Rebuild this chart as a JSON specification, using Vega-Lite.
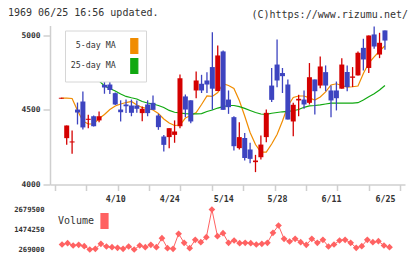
{
  "$schema": "https://vega.github.io/schema/vega-lite/v6.json",
  "background": "white",
  "padding": {"left": 8, "top": 7.5, "right": 5, "bottom": 3},
  "title": {"text": "1969 06/25 16:56 updated.", "anchor": "start", "frame": "group", "dx": -42, "dy": 12},
  "bounds": "flush",
  "spacing": 25,
  "resolve": {"scale": {"color": "independent"}, "legend": {"color": "independent"}},
  "config": {
    "view": {"stroke": null},
    "font": "DejaVu Sans Mono",
    "title": {"font": "DejaVu Sans Mono", "fontSize": 10, "fontWeight": "normal", "color": "#333"},
    "axis": {"labelFont": "DejaVu Sans Mono", "labelColor": "#333", "domainColor": "#cfcfcf", "tickColor": "#cfcfcf", "grid": false, "title": null}
  },
  "datasets": {
    "stock": [
      {"i":0,"o":4576,"h":4582,"l":4576,"c":4582,"v":null,"ma5":4579,"ma25":null},
      {"i":1,"o":4311,"h":4396,"l":4266,"c":4396,"v":570000,"ma5":4579,"ma25":4842},
      {"i":2,"o":4282,"h":4362,"l":4206,"c":4289,"v":648000,"ma5":4577,"ma25":4829},
      {"i":3,"o":4503,"h":4550,"l":4403,"c":4483,"v":510000,"ma5":4497,"ma25":4802},
      {"i":4,"o":4557,"h":4624,"l":4369,"c":4383,"v":552000,"ma5":4426,"ma25":4775},
      {"i":5,"o":4434,"h":4468,"l":4378,"c":4441,"v":470000,"ma5":4406,"ma25":4748},
      {"i":6,"o":4458,"h":4463,"l":4389,"c":4391,"v":269000,"ma5":4406,"ma25":4721},
      {"i":7,"o":4430,"h":4490,"l":4418,"c":4458,"v":309000,"ma5":4443,"ma25":4695},
      {"i":8,"o":4669,"h":4708,"l":4609,"c":4651,"v":610000,"ma5":4470,"ma25":4661},
      {"i":9,"o":4671,"h":4720,"l":4607,"c":4634,"v":450000,"ma5":4503,"ma25":4644},
      {"i":10,"o":4613,"h":4617,"l":4533,"c":4537,"v":410000,"ma5":4527,"ma25":4627},
      {"i":11,"o":4503,"h":4565,"l":4423,"c":4485,"v":370000,"ma5":4540,"ma25":4607},
      {"i":12,"o":4537,"h":4570,"l":4480,"c":4525,"v":309000,"ma5":4550,"ma25":4591},
      {"i":13,"o":4530,"h":4570,"l":4458,"c":4481,"v":450000,"ma5":4557,"ma25":4582},
      {"i":14,"o":4530,"h":4564,"l":4481,"c":4508,"v":269000,"ma5":4534,"ma25":4574},
      {"i":15,"o":4479,"h":4523,"l":4425,"c":4508,"v":510000,"ma5":4517,"ma25":4557},
      {"i":16,"o":4537,"h":4565,"l":4458,"c":4479,"v":410000,"ma5":4510,"ma25":4547},
      {"i":17,"o":4548,"h":4597,"l":4501,"c":4501,"v":552000,"ma5":4500,"ma25":4540},
      {"i":18,"o":4463,"h":4474,"l":4367,"c":4385,"v":410000,"ma5":4476,"ma25":4530},
      {"i":19,"o":4322,"h":4333,"l":4221,"c":4266,"v":950000,"ma5":4440,"ma25":4517},
      {"i":20,"o":4318,"h":4378,"l":4244,"c":4378,"v":349000,"ma5":4413,"ma25":4497},
      {"i":21,"o":4333,"h":4430,"l":4280,"c":4356,"v":309000,"ma5":4396,"ma25":4485},
      {"i":22,"o":4391,"h":4738,"l":4378,"c":4713,"v":1215000,"ma5":4399,"ma25":4480},
      {"i":23,"o":4591,"h":4604,"l":4452,"c":4503,"v":673000,"ma5":4446,"ma25":4476},
      {"i":24,"o":4565,"h":4565,"l":4411,"c":4423,"v":349000,"ma5":4463,"ma25":4474},
      {"i":25,"o":4631,"h":4758,"l":4579,"c":4698,"v":853000,"ma5":4483,"ma25":4474},
      {"i":26,"o":4676,"h":4736,"l":4614,"c":4631,"v":709000,"ma5":4537,"ma25":4476},
      {"i":27,"o":4698,"h":4754,"l":4614,"c":4671,"v":1010000,"ma5":4594,"ma25":4490},
      {"i":28,"o":4788,"h":5022,"l":4501,"c":4643,"v":2679500,"ma5":4591,"ma25":4500},
      {"i":29,"o":4627,"h":4933,"l":4627,"c":4866,"v":1070000,"ma5":4617,"ma25":4513},
      {"i":30,"o":4893,"h":4899,"l":4501,"c":4501,"v":1251000,"ma5":4676,"ma25":4523},
      {"i":31,"o":4570,"h":4631,"l":4474,"c":4519,"v":673000,"ma5":4664,"ma25":4530},
      {"i":32,"o":4452,"h":4458,"l":4228,"c":4257,"v":811000,"ma5":4644,"ma25":4530},
      {"i":33,"o":4244,"h":4418,"l":4235,"c":4318,"v":648000,"ma5":4564,"ma25":4523},
      {"i":34,"o":4312,"h":4346,"l":4161,"c":4178,"v":673000,"ma5":4460,"ma25":4511},
      {"i":35,"o":4235,"h":4280,"l":4143,"c":4172,"v":648000,"ma5":4349,"ma25":4497},
      {"i":36,"o":4150,"h":4199,"l":4083,"c":4161,"v":570000,"ma5":4268,"ma25":4483},
      {"i":37,"o":4183,"h":4329,"l":4168,"c":4268,"v":610000,"ma5":4217,"ma25":4473},
      {"i":38,"o":4318,"h":4503,"l":4284,"c":4481,"v":673000,"ma5":4217,"ma25":4471},
      {"i":39,"o":4664,"h":4782,"l":4554,"c":4568,"v":1275000,"ma5":4272,"ma25":4478},
      {"i":40,"o":4805,"h":4973,"l":4653,"c":4698,"v":1715000,"ma5":4336,"ma25":4483},
      {"i":41,"o":4748,"h":4782,"l":4614,"c":4727,"v":913000,"ma5":4426,"ma25":4488},
      {"i":42,"o":4671,"h":4705,"l":4436,"c":4436,"v":751000,"ma5":4527,"ma25":4491},
      {"i":43,"o":4423,"h":4548,"l":4324,"c":4535,"v":913000,"ma5":4584,"ma25":4495},
      {"i":44,"o":4564,"h":4602,"l":4458,"c":4575,"v":709000,"ma5":4594,"ma25":4503},
      {"i":45,"o":4570,"h":4631,"l":4508,"c":4537,"v":552000,"ma5":4594,"ma25":4518},
      {"i":46,"o":4548,"h":4815,"l":4537,"c":4720,"v":913000,"ma5":4581,"ma25":4528},
      {"i":47,"o":4705,"h":4705,"l":4470,"c":4626,"v":673000,"ma5":4567,"ma25":4530},
      {"i":48,"o":4664,"h":4859,"l":4646,"c":4792,"v":853000,"ma5":4587,"ma25":4534},
      {"i":49,"o":4754,"h":4799,"l":4626,"c":4664,"v":450000,"ma5":4621,"ma25":4540},
      {"i":50,"o":4631,"h":4664,"l":4452,"c":4564,"v":570000,"ma5":4668,"ma25":4546},
      {"i":51,"o":4631,"h":4691,"l":4497,"c":4579,"v":811000,"ma5":4676,"ma25":4546},
      {"i":52,"o":4643,"h":4848,"l":4643,"c":4805,"v":853000,"ma5":4664,"ma25":4546},
      {"i":53,"o":4755,"h":4799,"l":4626,"c":4654,"v":673000,"ma5":4653,"ma25":4546},
      {"i":54,"o":4716,"h":4788,"l":4654,"c":4725,"v":370000,"ma5":4656,"ma25":4546},
      {"i":55,"o":4732,"h":4893,"l":4732,"c":4884,"v":470000,"ma5":4661,"ma25":4549},
      {"i":56,"o":4917,"h":4978,"l":4765,"c":4839,"v":853000,"ma5":4745,"ma25":4567},
      {"i":57,"o":4782,"h":5000,"l":4748,"c":5000,"v":709000,"ma5":4815,"ma25":4589},
      {"i":58,"o":5007,"h":5060,"l":4911,"c":4926,"v":770000,"ma5":4856,"ma25":4609},
      {"i":59,"o":4872,"h":5018,"l":4848,"c":4951,"v":510000,"ma5":4896,"ma25":4634},
      {"i":60,"o":5034,"h":5034,"l":4904,"c":4966,"v":410000,"ma5":4931,"ma25":4664}
    ]
  },
  "vconcat": [
    {
      "width": 355,
      "height": 159,
      "title": {"text": "(C)https://www.rizumu.net/", "anchor": "end", "frame": "group", "dx": 3, "offset": 5.5},
      "data": {"name": "stock"},
      "encoding": {
        "x": {
          "field": "i", "type": "quantitative",
          "scale": {"domain": [-1.17, 62.79], "nice": false, "zero": false},
          "axis": {
            "values": [-1.17, 4.645, 10.46, 16.27, 22.09, 27.9, 33.72, 39.53, 45.35, 51.16, 56.98, 62.79, 10, 20, 30, 40, 50, 60],
            "labelExpr": "datum.value==10?'4/10':datum.value==20?'4/24':datum.value==30?'5/14':datum.value==40?'5/28':datum.value==50?'6/11':datum.value==60?'6/25':''",
            "tickOpacity": {"condition": {"test": "datum.value % 1 != 0", "value": 1}, "value": 0},
            "tickSize": 6, "tickWidth": 1.5, "domainWidth": 1.5, "labelPadding": 4,
            "labelFontSize": 8.3, "labelFontWeight": "bold",
            "labelFlush": false, "labelOverlap": false, "labelBound": false
          }
        }
      },
      "layer": [
        {
          "layer": [
            {
              "mark": {"type": "line", "strokeWidth": 1.2},
              "encoding": {
                "y": {
                  "field": "ma5", "type": "quantitative",
                  "scale": {"domain": [4000, 5067], "nice": false, "zero": false},
                  "axis": {"values": [4000, 4500, 5000], "format": "d", "tickSize": 7, "tickWidth": 1.5, "domainWidth": 1.5, "labelPadding": 3, "labelFontSize": 7.9, "labelFontWeight": "bold"}
                },
                "color": {
                  "datum": "5-day MA",
                  "scale": {"domain": ["5-day MA", "25-day MA"], "range": ["#f08c00", "#10a810"]},
                  "legend": {
                    "orient": "none", "legendX": 15, "legendY": 5, "title": null,
                    "fillColor": "white", "strokeColor": "#d6d6d6", "padding": 5.5,
                    "symbolType": "M-0.39,-0.83H0.39V0.83H-0.39Z", "symbolSize": 324, "symbolStrokeWidth": 1.2,
                    "labelAlign": "right", "labelOffset": -28.5, "symbolOffset": 53.8, "rowPadding": -4,
                    "labelFont": "DejaVu Sans Mono", "labelFontSize": 8.3, "labelColor": "#333",
                    "encode": {"symbols": {"update": {
                      "fill": {"signal": "datum.value === '5-day MA' ? '#f08c00' : '#10a810'"},
                      "stroke": {"value": "#444"}, "strokeWidth": {"value": 1.2}, "opacity": {"value": 1}
                    }}}
                  }
                }
              }
            },
            {
              "mark": {"type": "line", "strokeWidth": 1.2},
              "encoding": {
                "y": {"field": "ma25", "type": "quantitative"},
                "color": {"datum": "25-day MA"}
              }
            }
          ]
        },
        {
          "mark": {"type": "rule", "strokeWidth": 1.3},
          "encoding": {
            "y": {"field": "l", "type": "quantitative"},
            "y2": {"field": "h"},
            "color": {"condition": {"test": "datum.c > datum.o", "value": "#d40000"}, "value": "#3d44c0"}
          }
        },
        {
          "mark": {"type": "bar", "width": 5},
          "encoding": {
            "y": {"field": "o", "type": "quantitative"},
            "y2": {"field": "c"},
            "color": {"condition": {"test": "datum.c > datum.o", "value": "#d40000"}, "value": "#3d44c0"}
          }
        }
      ]
    },
    {
      "width": 355,
      "height": 40,
      "data": {"name": "stock"},
      "encoding": {
        "x": {"field": "i", "type": "quantitative", "scale": {"domain": [-1.17, 62.79], "nice": false, "zero": false}, "axis": null},
        "y": {
          "field": "v", "type": "quantitative",
          "scale": {"domain": [269000, 2679500], "nice": false, "zero": false},
          "axis": {"values": [269000, 1474250, 2679500], "format": "d", "domain": false, "ticks": false, "labelPadding": 6, "labelFontSize": 7.2, "labelFontWeight": "bold"}
        }
      },
      "layer": [
        {
          "mark": {"type": "line", "strokeWidth": 1},
          "encoding": {
            "color": {
              "datum": "Volume",
              "scale": {"domain": ["Volume"], "range": ["#ff6262"]},
              "legend": {
                "orient": "none", "legendX": 8, "legendY": 1.5, "title": null, "padding": 0,
                "symbolType": "M-0.39,-0.83H0.39V0.83H-0.39Z", "symbolSize": 324, "symbolStrokeWidth": 1.2,
                "labelAlign": "right", "labelOffset": -20.5, "symbolOffset": 36.5,
                "labelFont": "DejaVu Sans Mono", "labelFontSize": 10, "labelColor": "#333",
                "encode": {"symbols": {"update": {
                  "fill": {"value": "#ff6262"}, "stroke": {"value": "#444"}, "strokeWidth": {"value": 1.2}, "opacity": {"value": 1}
                }}}
              }
            }
          }
        },
        {
          "mark": {"type": "point", "shape": "diamond", "filled": true, "size": 45, "opacity": 1, "color": "#ff6262"},
          "encoding": {}
        }
      ]
    }
  ]
}
